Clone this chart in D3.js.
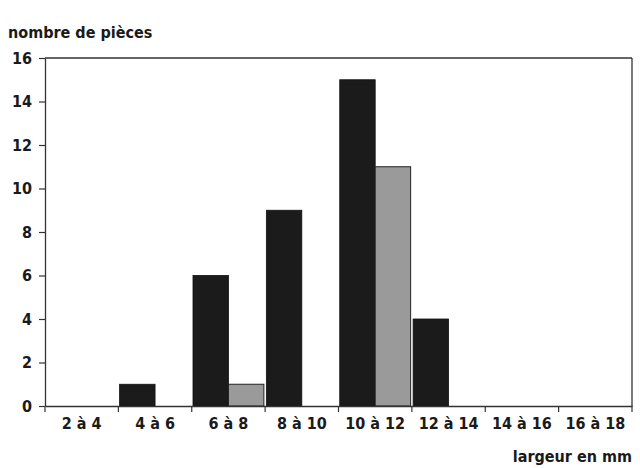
<!DOCTYPE html>
<html><head><meta charset="utf-8">
<script src="https://cdn.jsdelivr.net/npm/d3@7"></script>
<style>
body{margin:0;background:#fff;}
text{font-family:"Liberation Sans Narrow","DejaVu Sans Condensed","Open Sans",sans-serif;font-weight:bold;fill:#1a1a1a;}
</style></head>
<body><svg id="c" width="640" height="468"></svg>
<script>
const categories = ["2 à 4","4 à 6","6 à 8","8 à 10","10 à 12","12 à 14","14 à 16","16 à 18"];
const seriesDark = [0,1,6,9,15,4,0,0];
const seriesGray = [0,0,1,0,11,0,0,0];
const yTicks = [0,2,4,6,8,10,12,14,16];
const yLabel = "nombre de pièces";
const xLabel = "largeur en mm";

const svg = d3.select("#c");
const m = {l:45, r:632, t:58, b:406};
const x = d3.scaleBand().domain(categories).range([m.l, m.r]).paddingInner(0).paddingOuter(0);
const y = d3.scaleLinear().domain([0,16]).range([m.b, m.t]);
const inner = d3.scaleBand().domain(["a","b"]).range([0, x.bandwidth()]).paddingOuter(0.035).paddingInner(0);

// frame top/right
svg.append("line").attr("x1",m.l).attr("x2",m.r).attr("y1",m.t).attr("y2",m.t).attr("stroke","#333").attr("stroke-width",1.3);
svg.append("line").attr("x1",m.r).attr("x2",m.r).attr("y1",m.t).attr("y2",m.b).attr("stroke","#333").attr("stroke-width",1.3);

const g = svg.append("g");
const data = categories.map((c,i)=>({c, a:seriesDark[i], b:seriesGray[i]}));
g.selectAll("rect.a").data(data.filter(d=>d.a>0)).join("rect")
 .attr("x",d=>x(d.c)+inner("a")).attr("width",inner.bandwidth())
 .attr("y",d=>y(d.a)).attr("height",d=>y(0)-y(d.a))
 .attr("fill","#1b1b1b").attr("stroke","#111").attr("stroke-width",0.8);
g.selectAll("rect.b").data(data.filter(d=>d.b>0)).join("rect")
 .attr("x",d=>x(d.c)+inner("b")).attr("width",inner.bandwidth())
 .attr("y",d=>y(d.b)).attr("height",d=>y(0)-y(d.b))
 .attr("fill","#9a9a9a").attr("stroke","#222").attr("stroke-width",1);

// y axis
const ya = svg.append("g").attr("transform",`translate(${m.l},0)`)
 .call(d3.axisLeft(y).tickValues(yTicks).tickSize(6).tickPadding(7).tickSizeOuter(0));
ya.select(".domain").attr("stroke","#333").attr("stroke-width",1.3);
ya.selectAll(".tick line").attr("stroke","#333").attr("stroke-width",1.2);
ya.selectAll("text").style("font-size","16px").attr("fill","#1a1a1a");

// x axis
const xa = svg.append("g").attr("transform",`translate(0,${m.b})`)
 .call(d3.axisBottom(x).tickSize(0).tickPadding(12).tickSizeOuter(0));
xa.select(".domain").attr("stroke","#333").attr("stroke-width",1.3);
xa.selectAll("text").style("font-size","16px").attr("fill","#1a1a1a");
// boundary ticks
const bounds = categories.map(c=>x(c)).concat([m.r]);
svg.append("g").selectAll("line").data(bounds).join("line")
 .attr("x1",d=>d).attr("x2",d=>d).attr("y1",m.b).attr("y2",m.b+6)
 .attr("stroke","#333").attr("stroke-width",1.2);

svg.append("text").attr("x",8).attr("y",38).style("font-size","16px").text(yLabel);
svg.append("text").attr("x",632).attr("y",462).attr("text-anchor","end").style("font-size","16px").text(xLabel);
</script></body></html>
